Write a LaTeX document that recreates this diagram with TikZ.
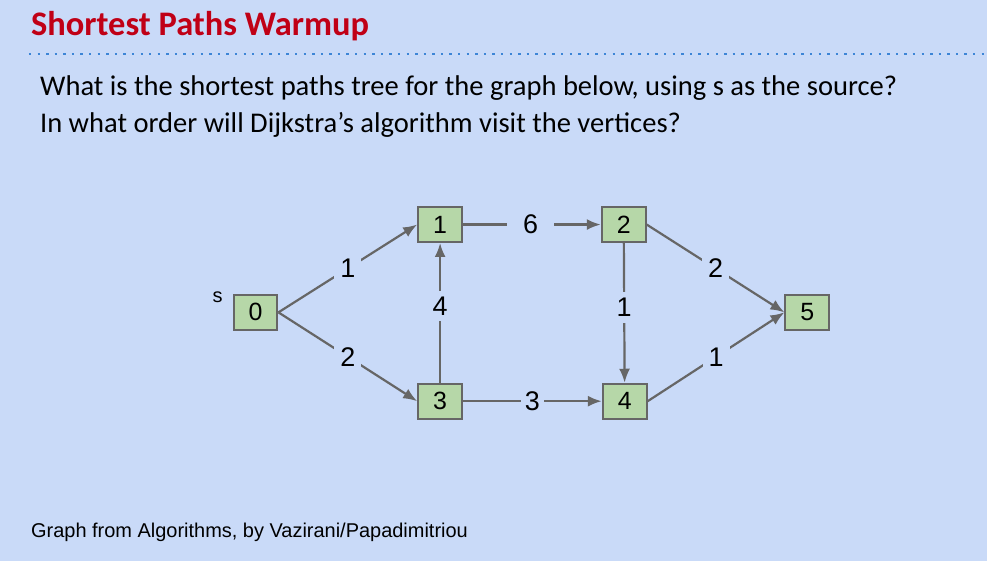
\documentclass[tikz,border=0pt]{standalone}
\usepackage{fontspec}
\setmainfont{Carlito}
\newfontfamily\arialfont{Liberation Sans}
\usetikzlibrary{arrows.meta}

\definecolor{slidebg}{RGB}{201,218,248}
\definecolor{titlered}{RGB}{192,0,22}
\definecolor{dotblue}{RGB}{61,133,214}
\definecolor{boxgreen}{RGB}{182,215,168}
\definecolor{edgegray}{RGB}{102,102,102}

\begin{document}
\begin{tikzpicture}[x=1pt,y=-1pt,>={Latex[length=14pt,width=11pt]},
    vertex/.style={draw=edgegray,fill=boxgreen,line width=2pt,minimum width=44pt,minimum height=35pt,inner sep=0pt,font=\arialfont\fontsize{25}{25}\selectfont},
    wt/.style={fill=slidebg,inner sep=6pt,font=\arialfont\fontsize{27}{27}\selectfont},
    wedge/.style={->,draw=edgegray,line width=2.2pt}]
                \fill[slidebg](-1,-1) rectangle (988,561);
                \useasboundingbox (0,0) rectangle (987,560);
                \node[anchor=base west,inner sep=0pt,text=titlered,font=\bfseries\fontsize{34.5}{34.5}\selectfont](title)at(30, 35){Shortest Paths Warmup};
                \draw[dotblue,line width=2.4pt,dash pattern=on 2.4pt off 6.2pt](28, 53) -- (987, 53);
                \node[anchor=base west,inner sep=0pt,font=\fontsize{28.6}{28.6}\selectfont](q1)at(39, 95){What is the shortest paths tree for the graph below, using s as the source?};
                \node[anchor=base west,inner sep=0pt,font=\fontsize{28.6}{28.6}\selectfont](q2)at(39, 132){In what order will Dijkstra’s algorithm visit the vertices?};
                \node[anchor=base west,inner sep=0pt,font=\arialfont\fontsize{20}{20}\selectfont](credit)at(30, 538){Graph from Algorithms, by Vazirani/Papadimitriou};
                \node[inner sep=0pt,font=\arialfont\fontsize{20}{20}\selectfont](src)at(217, 297){s};
                \node[vertex](v0)at(255, 312){0};
                \node[vertex](v1)at(440, 224){1};
                \node[vertex](v2)at(624, 224){2};
                \node[vertex](v3)at(440, 401){3};
                \node[vertex](v4)at(625, 401){4};
                \node[vertex](v5)at(808, 312){5};
                \path[every edge/.style={wedge}](v0.east) edge node[wt]{1} (v1.west)
                (v0.east) edge node[wt]{2} (v3.west)
                (v3) edge node[wt,pos=0.55]{4} (v1)
                (v1) edge node[wt,inner xsep=16pt,pos=0.49]{6} (v2)
                (v3) edge node[wt,inner xsep=4pt]{3} (v4)
                (v2) edge node[wt,pos=0.46]{1} (v4)
                (v2.east) edge node[wt]{2} (v5.west)
                (v4.east) edge node[wt]{1} (v5.west);
            \end{tikzpicture}
\end{document}
